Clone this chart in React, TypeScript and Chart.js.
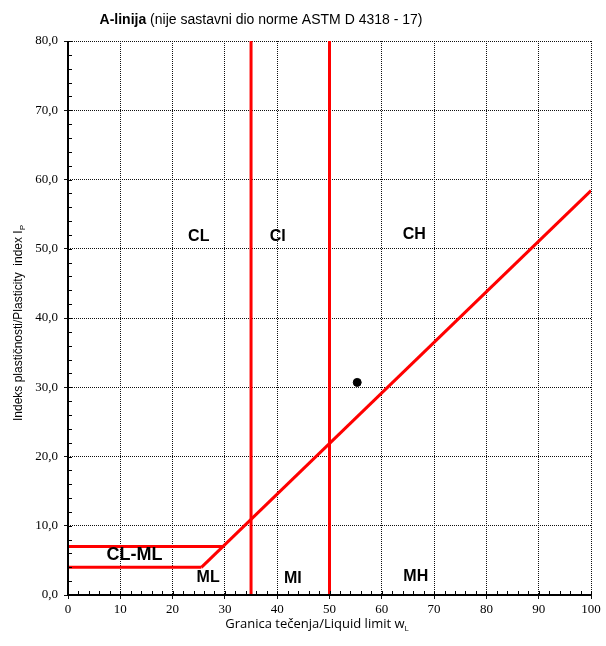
import React, { useEffect, useRef } from "react";
import { Chart, registerables } from "chart.js";

Chart.register(...registerables);

// A-line (PI = 0.73 (wL - 20)) from its start point to wL = 100
const aLineX = [25.5, 100];
const aLineY = [4, 58.4];
// CL-ML boundaries
const clmlTopX = [0, 29.6];
const clmlTopY = [7, 7];
const clmlBottomX = [0, 25.5];
const clmlBottomY = [4, 4];
// vertical boundaries at wL = 35 and wL = 50
const vLine35X = [35, 35];
const vLine50X = [50, 50];
const vLineY = [0, 80];
// sample point
const sampleX = [55.3];
const sampleY = [30.7];
// zone labels
const zoneNames = ["CL", "CI", "CH", "CL-ML", "ML", "MI", "MH"];
const zoneX = [25.0, 40.1, 66.2, 12.7, 26.8, 43.0, 66.5];
const zoneY = [51.7, 51.7, 52.0, 5.8, 2.5, 2.3, 2.7];
// axes
const xMin = 0, xMax = 100, xStep = 10;
const yMin = 0, yMax = 80, yStep = 10;
const minorStep = 2;

const toPts = (xs: number[], ys: number[]) => xs.map((x, i) => ({ x, y: ys[i] }));

export default function App() {
  const ref = useRef<HTMLCanvasElement | null>(null);
  useEffect(() => {
    if (!ref.current) return;
    const red = "#ff0000";
    const lineDs = (xs: number[], ys: number[]) => ({
      data: toPts(xs, ys),
      showLine: true,
      borderColor: red,
      borderWidth: 3,
      pointRadius: 0,
      fill: false,
    });
    const overlay = {
      id: "overlay",
      afterDatasetsDraw(chart: any) {
        const ctx = chart.ctx;
        const xs = chart.scales.x;
        const ys = chart.scales.y;
        const ca = chart.chartArea;
        ctx.save();
        // minor ticks
        ctx.strokeStyle = "#000";
        ctx.lineWidth = 1;
        for (let v = yMin; v <= yMax; v += minorStep) {
          const py = Math.round(ys.getPixelForValue(v)) + 0.5;
          ctx.beginPath();
          ctx.moveTo(ca.left, py);
          ctx.lineTo(ca.left + 4, py);
          ctx.stroke();
        }
        for (let v = xMin; v <= xMax; v += minorStep) {
          const px = Math.round(xs.getPixelForValue(v)) + 0.5;
          ctx.beginPath();
          ctx.moveTo(px, ca.bottom);
          ctx.lineTo(px, ca.bottom - 4);
          ctx.stroke();
        }
        // axis lines
        ctx.lineWidth = 2;
        ctx.beginPath();
        ctx.moveTo(ca.left, ca.top);
        ctx.lineTo(ca.left, ca.bottom);
        ctx.lineTo(ca.right, ca.bottom);
        ctx.stroke();
        // zone labels
        ctx.fillStyle = "#000";
        ctx.textAlign = "center";
        ctx.textBaseline = "middle";
        zoneNames.forEach((n, i) => {
          ctx.font = n === "CL-ML" ? "bold 18px 'Liberation Sans', Arial" : "bold 16px 'Liberation Sans', Arial";
          ctx.fillText(n, xs.getPixelForValue(zoneX[i]), ys.getPixelForValue(zoneY[i]));
        });
        // title
        const bold = "A-linija";
        const rest = " (nije sastavni dio norme ASTM D 4318 - 17)";
        ctx.textBaseline = "alphabetic";
        ctx.textAlign = "left";
        ctx.font = "bold 14px 'Liberation Sans', Arial";
        const wb = ctx.measureText(bold).width;
        ctx.font = "14px 'Liberation Sans', Arial";
        const wr = ctx.measureText(rest).width;
        let sx = 261 - (wb + wr) / 2;
        ctx.font = "bold 14px 'Liberation Sans', Arial";
        ctx.fillText(bold, sx, 24);
        ctx.font = "14px 'Liberation Sans', Arial";
        ctx.fillText(rest, sx + wb, 24);
        // x axis title with subscript
        const xt = "Granica tečenja/Liquid limit w";
        ctx.font = "13px 'Open Sans', sans-serif";
        const wx = ctx.measureText(xt).width;
        ctx.font = "8px 'Open Sans', sans-serif";
        const wxs = ctx.measureText("L").width;
        const xsx = 317 - (wx + wxs) / 2;
        ctx.font = "13px 'Open Sans', sans-serif";
        ctx.fillText(xt, xsx, 628);
        ctx.font = "8px 'Open Sans', sans-serif";
        ctx.fillText("L", xsx + wx, 631);
        // y axis title
        const yt = "Indeks plastičnosti/Plasticity  index I";
        ctx.translate(22, 323);
        ctx.rotate(-Math.PI / 2);
        ctx.font = "12px 'Liberation Sans', Arial";
        const wy = ctx.measureText(yt).width;
        ctx.font = "8px 'Liberation Sans', Arial";
        const wys = ctx.measureText("P").width;
        const ysx = -(wy + wys) / 2;
        ctx.font = "12px 'Liberation Sans', Arial";
        ctx.fillText(yt, ysx, 0);
        ctx.font = "8px 'Liberation Sans', Arial";
        ctx.fillText("P", ysx + wy, 3);
        ctx.restore();
      },
    };
    const chart = new Chart(ref.current, {
      type: "scatter",
      data: {
        datasets: [
          lineDs(vLine35X, vLineY),
          lineDs(vLine50X, vLineY),
          lineDs(clmlTopX, clmlTopY),
          lineDs(clmlBottomX, clmlBottomY),
          lineDs(aLineX, aLineY),
          {
            data: toPts(sampleX, sampleY),
            showLine: false,
            backgroundColor: "#000",
            borderColor: "#000",
            pointRadius: 4,
          } as any,
        ],
      },
      options: {
        animation: false,
        responsive: false,
        layout: { padding: { left: 0, right: 15, top: 41, bottom: 0 } },
        plugins: { legend: { display: false }, title: { display: false }, tooltip: { enabled: false } },
        scales: {
          x: {
            type: "linear",
            min: xMin,
            max: xMax,
            ticks: { stepSize: xStep, color: "#000", font: { family: "'Liberation Serif', serif", size: 13 }, padding: 3, maxRotation: 0 },
            grid: { color: "#111", lineWidth: 1, tickLength: 4, drawTicks: true },
            border: { display: false, dash: [1, 1] },
            afterFit: (s: any) => { s.height = 51; },
          },
          y: {
            type: "linear",
            min: yMin,
            max: yMax,
            ticks: {
              stepSize: yStep,
              color: "#000",
              font: { family: "'Liberation Serif', serif", size: 13 },
              padding: 6,
              callback: (v: any) => Number(v).toFixed(1).replace(".", ","),
            },
            grid: { color: "#111", lineWidth: 1, tickLength: 4, drawTicks: true },
            border: { display: false, dash: [1, 1] },
            afterFit: (s: any) => { s.width = 68; },
          },
        },
      },
      plugins: [overlay],
    });
    return () => chart.destroy();
  }, []);
  return (
    <div style={{ position: "absolute", left: 0, top: 0, width: 606, height: 646, background: "#fff" }}>
      <canvas ref={ref} width={606} height={646} style={{ width: 606, height: 646 }} />
    </div>
  );
}
